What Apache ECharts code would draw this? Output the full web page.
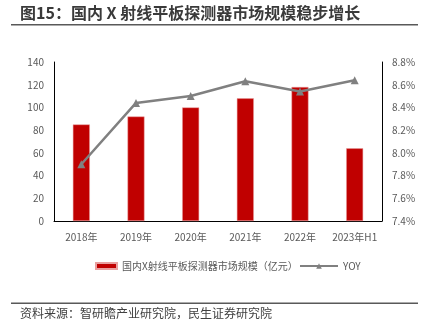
<!DOCTYPE html>
<html>
<head>
<meta charset="utf-8">
<script src="https://cdn.jsdelivr.net/npm/echarts@6/dist/echarts.min.js"></script>
<style>
  html, body { margin: 0; padding: 0; background: #fff; }
  #chart { width: 429px; height: 327px; }
</style>
</head>
<body>
<div id="chart"></div>
<script>
// Categories and series values
const categories = ['2018年', '2019年', '2020年', '2021年', '2022年', '2023年H1'];
const marketSize = [85, 92, 100, 108, 118, 64];          // 亿元
const yoy = [7.90, 8.44, 8.50, 8.63, 8.54, 8.64];        // %
const leftTicks = { min: 0, max: 140, interval: 20 };
const rightTicks = { min: 7.4, max: 8.8, interval: 0.2 };

const titleText = '图15：国内 X 射线平板探测器市场规模稳步增长';
const sourceText = '资料来源：智研瞻产业研究院，民生证券研究院';
const barName = '国内X射线平板探测器市场规模（亿元）';
const lineName = 'YOY';

const FONT = '"Noto Sans CJK SC", "Noto Sans", sans-serif';
const labelColor = '#595959';

const chart = echarts.init(document.getElementById('chart'), null, { renderer: 'canvas' });

chart.setOption({
  animation: false,
  backgroundColor: '#fff',
  textStyle: { fontFamily: FONT },
  graphic: [
    {
      type: 'text', left: 20, top: 5,
      style: { text: titleText, font: 'bold 16px ' + FONT, fill: '#3a3a3a' }
    },
    {
      type: 'rect', shape: { x: 11, y: 24, width: 407, height: 1.5 },
      style: { fill: '#595959' }
    },
    {
      type: 'rect', shape: { x: 11, y: 302.5, width: 407, height: 1.5 },
      style: { fill: '#595959' }
    },
    {
      type: 'text', left: 20, top: 307,
      style: { text: sourceText, font: '12px ' + FONT, fill: '#404040' }
    }
  ],
  grid: { left: 54, right: 47, top: 62, bottom: 106 },
  legend: [
    {
      data: [{ name: barName, icon: 'rect' }],
      left: 90, top: 256,
      itemWidth: 21, itemHeight: 6,
      textStyle: { fontSize: 10, color: labelColor, fontFamily: FONT }
    },
    {
      data: [lineName],
      left: 294, top: 256,
      itemWidth: 38, itemHeight: 7,
      textStyle: { fontSize: 10, color: labelColor, fontFamily: FONT }
    }
  ],
  xAxis: {
    type: 'category',
    data: categories,
    axisLine: { lineStyle: { color: '#000', width: 1 } },
    axisTick: { show: false },
    axisLabel: { interval: 0, color: labelColor, fontSize: 10, margin: 11, fontFamily: FONT }
  },
  yAxis: [
    {
      type: 'value',
      min: leftTicks.min, max: leftTicks.max, interval: leftTicks.interval,
      axisLine: { show: true, lineStyle: { color: '#000', width: 1 } },
      axisTick: { show: false },
      splitLine: { show: false },
      axisLabel: { color: labelColor, fontSize: 10, margin: 10, fontFamily: FONT }
    },
    {
      type: 'value',
      min: rightTicks.min, max: rightTicks.max, interval: rightTicks.interval,
      axisLine: { show: true, lineStyle: { color: '#000', width: 1 } },
      axisTick: { show: false },
      splitLine: { show: false },
      axisLabel: {
        color: labelColor, fontSize: 10, margin: 10, fontFamily: FONT,
        formatter: v => v.toFixed(1) + '%'
      }
    }
  ],
  series: [
    {
      name: barName,
      type: 'bar',
      data: marketSize,
      barWidth: '31%',
      itemStyle: { color: '#C00000', borderColor: '#E8A0A0', borderWidth: 0.5 }
    },
    {
      name: lineName,
      type: 'line',
      yAxisIndex: 1,
      data: yoy,
      symbol: 'triangle',
      symbolSize: 8,
      lineStyle: { color: '#808080', width: 2.5 },
      itemStyle: { color: '#808080' }
    }
  ]
});
</script>
</body>
</html>
